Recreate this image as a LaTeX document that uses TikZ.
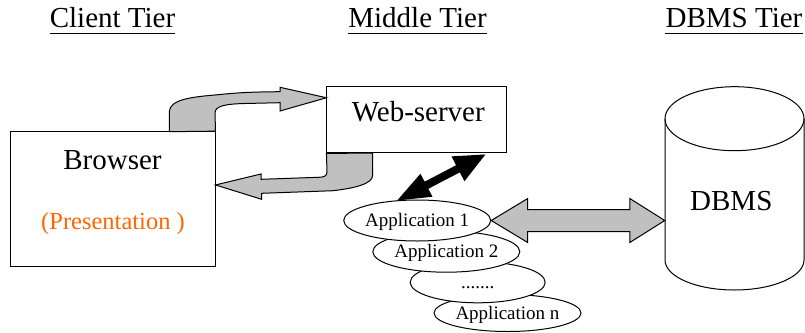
\documentclass[tikz,border=0pt]{standalone}
\usepackage{fontspec}
\setmainfont{Liberation Serif}
\usetikzlibrary{shapes.geometric,calc}
\definecolor{arrowgray}{RGB}{192,192,192}
\definecolor{presorange}{RGB}{255,102,0}
\begin{document}
\begin{tikzpicture}[x=1pt,y=-1pt,
  outline/.style={draw=black,line width=1pt},
  box/.style={outline,fill=white,rectangle,inner sep=0pt},
  app/.style={outline,fill=white,ellipse,inner sep=0pt,minimum width=135pt,minimum height=41pt,
    text height=12pt,text depth=0pt,font=\fontsize{19}{20}\selectfont},
  tiertitle/.style={font=\fontsize{29}{30}\selectfont,inner sep=0pt,anchor=base},
  big/.style={font=\fontsize{29}{30}\selectfont,inner sep=0pt,anchor=base},
  grayarrow/.style={outline,fill=arrowgray,line join=miter},
  uline/.style={line width=1.6pt},
]
\useasboundingbox (0,0) rectangle (805,332);

% titles
\node[tiertitle] (client) at (112.5,27.3) {Client Tier};
\node[tiertitle] (middle) at (417.5,27.3) {Middle Tier};
\node[tiertitle] (dbmstier) at (734,27.3) {DBMS Tier};
\foreach \t in {client,middle,dbmstier}
  \draw[uline] ($(\t.base west)+(0,6)$) -- ($(\t.base east)+(0,6)$);

% boxes
\node[box,minimum width=205pt,minimum height=135.3pt] (browser) at (112.5,199.3) {};
\node[big] (btxt) at (112.5,169) {Browser};
\node[font=\fontsize{24.5}{26}\selectfont,text=presorange,inner sep=0pt,anchor=base] (pres) at (113,229.5) {(Presentation )};

\node[box,minimum width=179.5pt,minimum height=66.3pt] (ws) at (416.7,119.8) {};
\node[big] (wstxt) at (418.3,121) {Web-server};

% DBMS cylinder
\node[inner sep=0pt,minimum width=139pt,minimum height=203pt] (dbms) at (734.5,188.5) {};
\draw[outline,fill=white] (665,118.7) -- (665,260)
  .. controls (665,276.6) and (696.1,290) .. (734.5,290)
  .. controls (772.9,290) and (804,276.6) .. (804,260) -- (804,118.7);
\draw[outline] (734.5,118.7) ellipse [x radius=69.5pt,y radius=32pt];
\node[big] (dbmstxt) at (731.3,210.5) {DBMS};

% upper curved arrow (browser -> web-server)
\coordinate (upTip) at ($(ws.north west)+(0,11.6)$);
\draw[grayarrow] (browser.north east) -- (215,113)
  .. controls (215,106) and (225,104) .. (245,103.5) -- (280,102.7) -- (280,111)
  -- (upTip) -- (280,87.3) -- (280,91.7)
  .. controls (245,92) and (235,93) .. (215,95)
  .. controls (190,97) and (169.3,100) .. (169.3,112) -- (169.3,131.7) -- cycle;

% lower curved arrow (web-server -> browser)
\coordinate (lowTip) at ($(browser.north east)+(0,53.8)$);
\draw[grayarrow] (ws.south west) -- (327,172)
  .. controls (327,176.5) and (323,177.3) .. (318.3,177.3) -- (261,179.3) -- (261,174)
  -- (lowTip) -- (261.7,199.3) -- (261.7,193.3) -- (333.3,190.7)
  .. controls (355,188) and (372.7,184) .. (372.7,175) -- (372.7,153) -- cycle;

% applications (drawn back to front)
\node[app,minimum height=37pt] (appn) at (507.5,313) {Application n};
\node[app] (app3) at (477.7,282.3) {.......};
\node[app] (app2) at (446.3,251.7) {Application 2};
\node[app] (app1) at (417.2,220.5) {Application 1};

% black double arrow (web-server <-> application 1)
\coordinate (bLow) at ($(app1.north)+(-20,1)$);
\coordinate (bUp) at ($(ws.south east)+(-21.5,1)$);
\coordinate (h1) at ($(bLow)!33pt!(bUp)$);
\coordinate (h2) at ($(bUp)!31pt!(bLow)$);
\fill[black] (bLow) -- ($(h1)!13pt!90:(bUp)$) -- ($(h1)!4pt!90:(bUp)$)
  -- ($(h2)!4pt!-90:(bLow)$) -- ($(h2)!14pt!-90:(bLow)$) -- (bUp)
  -- ($(h2)!14pt!90:(bLow)$) -- ($(h2)!4pt!90:(bLow)$)
  -- ($(h1)!4pt!-90:(bUp)$) -- ($(h1)!13pt!-90:(bUp)$) -- cycle;

% gray double arrow app1 <-> dbms
\coordinate (gL) at (app1.east);
\coordinate (gR) at (dbms.west |- app1.east);
\draw[grayarrow] (gL) -- ++(36.5,-22) -- ++(0,11) -- ($(gR)+(-35,-11)$) -- ++(0,-11)
  -- (gR) -- ++(-35,22) -- ++(0,-11) -- ($(gL)+(36.5,11)$) -- ++(0,11) -- cycle;
\end{tikzpicture}
\end{document}
